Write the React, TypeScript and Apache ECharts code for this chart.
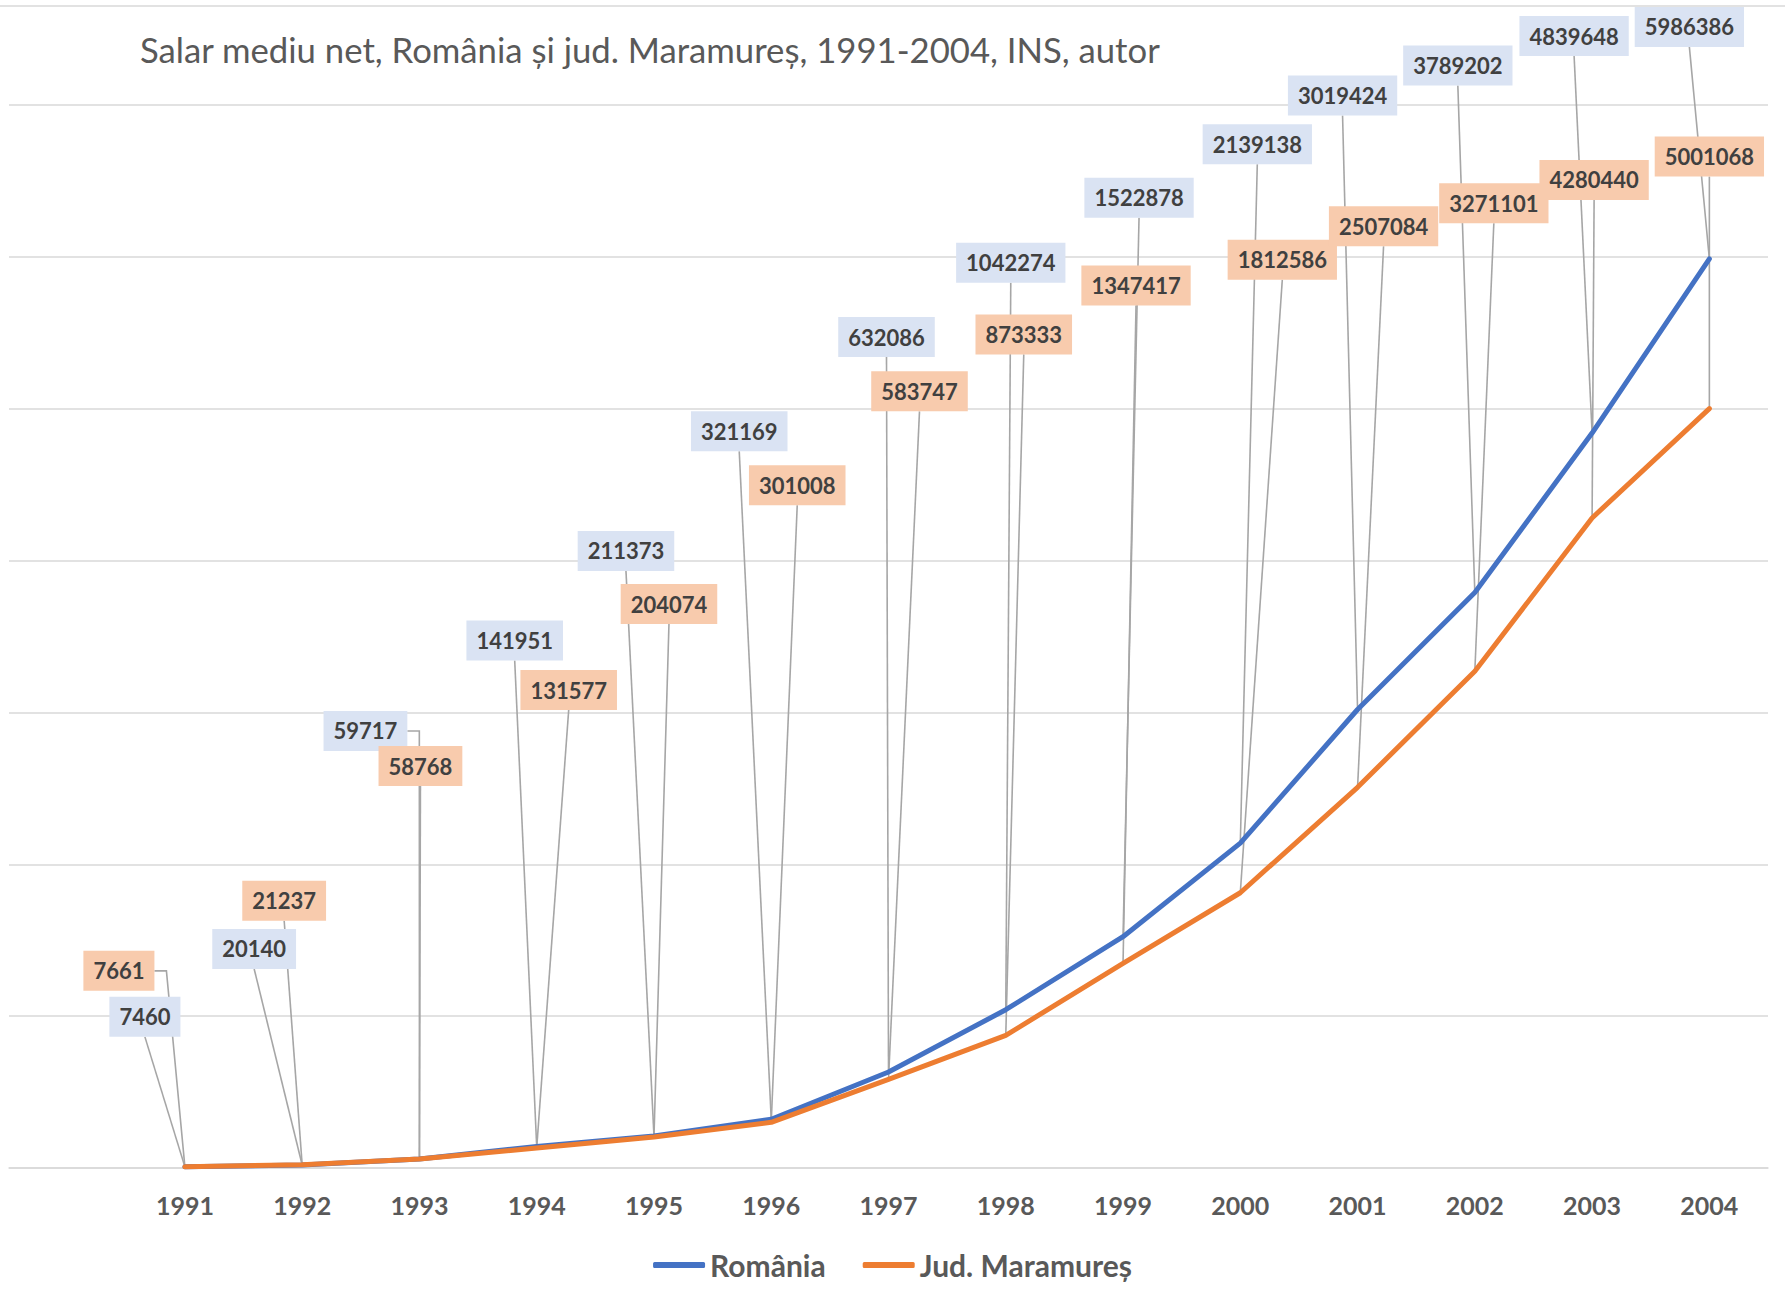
import React, { useEffect, useRef } from 'react';
import * as echarts from 'echarts';

// ---------- data ----------
const TITLE = 'Salar mediu net, România și jud. Maramureș, 1991-2004, INS, autor';
const years = ['1991', '1992', '1993', '1994', '1995', '1996', '1997', '1998', '1999', '2000', '2001', '2002', '2003', '2004'];
const seriesNames = ['România', 'Jud. Maramureș'];
const romania = [7460, 20140, 59717, 141951, 211373, 321169, 632086, 1042274, 1522878, 2139138, 3019424, 3789202, 4839648, 5986386];
const maramures = [7661, 21237, 58768, 131577, 204074, 301008, 583747, 873333, 1347417, 1812586, 2507084, 3271101, 4280440, 5001068];

// ---------- label placement (label centre relative to its point, px) ----------
const romaniaLabelOffsets = [
  [-40, -150], [-48, -216], [-54, -428], [-22, -506], [-28, -585], [-32, -688], [-2, -735],
  [5, -747], [16, -739], [17, -699], [-15, -614], [-17, -527], [-18, -397], [-20, -232],
];
const maramuresLabelOffsets = [
  [-66, -196], [-18, -264], [1, -393], [32, -458], [15, -533], [26, -637], [31, -688],
  [18, -701], [13, -678], [42, -633], [26, -561], [19, -468], [2, -338], [0, -252],
];

// ---------- styles ----------
const BLUE = '#4472C4';
const ORANGE = '#ED7D31';
const BLUE_BG = '#DAE3F3';
const ORANGE_BG = '#F8CBAD';
const FONT = 'Lato';
const LABEL_FONT_SIZE = 22;
const LABEL_LINE_H = 24;
const LABEL_PAD_Y = 8;
const LABEL_PAD_X = 10;
const LABEL_H = LABEL_LINE_H + 2 * LABEL_PAD_Y;

let measureCtx: CanvasRenderingContext2D | null = null;
function labelWidth(text: string): number {
  if (!measureCtx) measureCtx = document.createElement('canvas').getContext('2d');
  if (!measureCtx) return text.length * 13 + 2 * LABEL_PAD_X;
  measureCtx.font = `bold ${LABEL_FONT_SIZE}px ${FONT}`;
  return measureCtx.measureText(text).width + 2 * LABEL_PAD_X;
}

const xCategories = ['', ...years];
const toPairs = (vals: number[]) => vals.map((v, i) => [years[i], v]);

function leaderSeries(name: string, values: number[], offsets: number[][], color: string) {
  return {
    type: 'custom',
    name,
    color,
    itemStyle: { color },
    silent: true,
    clip: false,
    z: 1,
    data: toPairs(values),
    encode: { x: 0, y: 1 },
    renderItem: (params: any, api: any) => {
      const i = params.dataIndex;
      const p = api.coord([api.value(0), api.value(1)]);
      const px = p[0];
      const py = p[1];
      const cx = px + offsets[i][0];
      const cy = py + offsets[i][1];
      const w = labelWidth(String(values[i]));
      const left = cx - w / 2;
      const right = cx + w / 2;
      let points: number[][];
      if (px > right + 8) points = [[right, cy], [right + 12, cy], [px, py]];
      else if (px < left - 8) points = [[left, cy], [left - 12, cy], [px, py]];
      else points = [[cx, cy + LABEL_H / 2], [px, py]];
      return {
        type: 'polyline',
        shape: { points },
        style: { stroke: '#A6A6A6', lineWidth: 1.6, fill: 'none' },
      };
    },
  };
}

function labelSeries(name: string, values: number[], offsets: number[][], bg: string, color: string) {
  return {
    type: 'custom',
    name,
    color,
    itemStyle: { color },
    silent: true,
    clip: false,
    z: 3,
    data: toPairs(values),
    encode: { x: 0, y: 1 },
    renderItem: (params: any, api: any) => {
      const i = params.dataIndex;
      const p = api.coord([api.value(0), api.value(1)]);
      return {
        type: 'text',
        x: p[0] + offsets[i][0],
        y: p[1] + offsets[i][1],
        style: {
          text: String(values[i]),
          align: 'center',
          verticalAlign: 'middle',
          fontFamily: FONT,
          fontWeight: 'bold',
          fontSize: LABEL_FONT_SIZE,
          lineHeight: LABEL_LINE_H,
          fill: '#404040',
          backgroundColor: bg,
          padding: [LABEL_PAD_Y, LABEL_PAD_X],
        },
      };
    },
  };
}

function lineSeries(name: string, values: number[], color: string) {
  return {
    type: 'line',
    name,
    data: toPairs(values),
    symbol: 'none',
    color,
    z: 2,
    itemStyle: { color },
    lineStyle: { color, width: 5, cap: 'round', join: 'round' },
  };
}

export default function App() {
  const ref = useRef<HTMLDivElement>(null);

  useEffect(() => {
    if (!ref.current) return;
    const chart = echarts.init(ref.current, null, { renderer: 'svg' });
    chart.setOption({
      animation: false,
      backgroundColor: '#ffffff',
      title: {
        text: TITLE,
        left: 140,
        top: 32,
        padding: 0,
        textStyle: { fontFamily: FONT, fontWeight: 'normal', fontSize: 34.7, color: '#595959' },
      },
      graphic: [
        {
          type: 'line',
          shape: { x1: 0, y1: 6, x2: 1785, y2: 6 },
          style: { stroke: '#D9D9D9', lineWidth: 1.5 },
          silent: true,
        },
      ],
      legend: {
        data: seriesNames,
        left: 'center',
        top: 1245,
        icon: 'roundRect',
        itemWidth: 52,
        itemHeight: 6,
        itemGap: 37,
        textStyle: { fontFamily: FONT, fontWeight: 'bold', fontSize: 30, color: '#595959' },
      },
      grid: {
        left: 9,
        right: 17,
        top: 105,
        bottom: 139,
        containLabel: false,
        outerBoundsMode: 'none',
      },
      xAxis: {
        type: 'category',
        data: xCategories,
        boundaryGap: true,
        axisTick: { show: false },
        axisLine: { show: true, lineStyle: { color: '#D9D9D9', width: 1.5 } },
        axisLabel: {
          interval: 0,
          margin: 24,
          fontFamily: FONT,
          fontWeight: 'bold',
          fontSize: 25,
          color: '#595959',
        },
        splitLine: { show: false },
      },
      yAxis: {
        type: 'value',
        min: 0,
        max: 7000000,
        interval: 1000000,
        axisLabel: { show: false },
        axisLine: { show: false },
        axisTick: { show: false },
        splitLine: { show: true, lineStyle: { color: '#D9D9D9', width: 1.5 } },
      },
      series: [
        lineSeries(seriesNames[0], romania, BLUE),
        lineSeries(seriesNames[1], maramures, ORANGE),
        leaderSeries(seriesNames[0], romania, romaniaLabelOffsets, BLUE),
        leaderSeries(seriesNames[1], maramures, maramuresLabelOffsets, ORANGE),
        labelSeries(seriesNames[0], romania, romaniaLabelOffsets, BLUE_BG, BLUE),
        labelSeries(seriesNames[1], maramures, maramuresLabelOffsets, ORANGE_BG, ORANGE),
      ],
    });
    return () => chart.dispose();
  }, []);

  return (
    <div
      ref={ref}
      style={{ position: 'absolute', left: 0, top: 0, width: 1785, height: 1307 }}
    />
  );
}
